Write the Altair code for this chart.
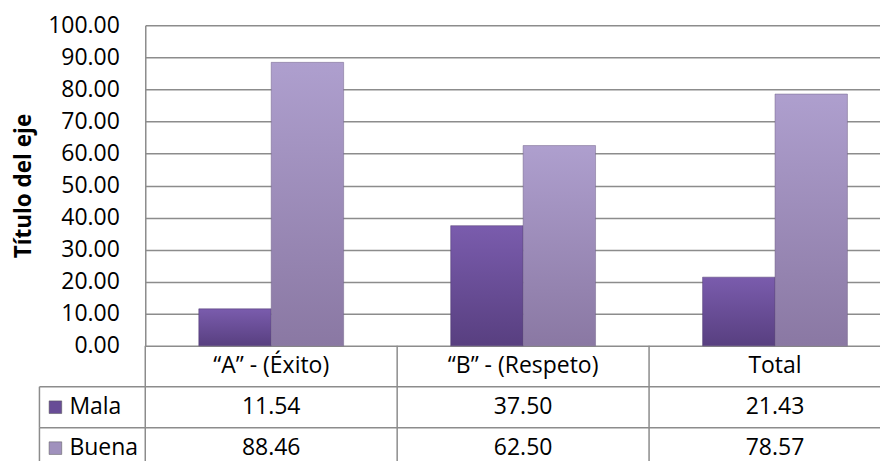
import altair as alt
import pandas as pd

categories = ["“A” - (Éxito)", "“B” - (Respeto)", "Total"]
series = ["Mala", "Buena"]
mala = [11.54, 37.50, 21.43]
buena = [88.46, 62.50, 78.57]
y_ticks = [0, 10, 20, 30, 40, 50, 60, 70, 80, 90, 100]
rows = ["cat", "Mala", "Buena"]

FONT = "Open Sans"
GRID = "#8c8c8c"

recs = []
for c, m, b in zip(categories, mala, buena):
    recs.append({"category": c, "serie": "Mala", "value": m})
    recs.append({"category": c, "serie": "Buena", "value": b})
df = pd.DataFrame(recs)

tab = []
for c in categories:
    tab.append({"category": c, "row": "cat", "label": c})
for r in recs:
    tab.append({"category": r["category"], "row": r["serie"], "label": f"{r['value']:.2f}"})
tdf = pd.DataFrame(tab)
hdr = pd.DataFrame({"row": series})
cdf = pd.DataFrame({"category": categories})

W = 757
ROWH = 41

def grad(top, bottom):
    return alt.Gradient(
        gradient="linear",
        stops=[alt.GradientStop(color=top, offset=0), alt.GradientStop(color=bottom, offset=1)],
        x1=0, x2=0, y1=0, y2=1,
    )

xs = alt.X("category:N", sort=categories, axis=None,
           scale=alt.Scale(paddingInner=0.425, paddingOuter=0.2125))
ys = alt.Y("value:Q", scale=alt.Scale(domain=[0, 100], nice=False),
           axis=alt.Axis(values=y_ticks, format=".2f", title="Título del eje",
                         titleFont=FONT, titleFontSize=22.5, titleFontWeight="bold",
                         titleColor="black", titlePadding=12,
                         labelFont=FONT, labelFontSize=23, labelColor="black",
                         labelPadding=26, ticks=False, grid=True, gridColor=GRID,
                         gridWidth=1.5, domain=True, domainColor=GRID, domainWidth=1.5))
xo = alt.XOffset("serie:N", sort=series, scale=alt.Scale(paddingInner=0, paddingOuter=0))

bars_m = alt.Chart(df).transform_filter(alt.datum.serie == "Mala").mark_bar(
    color=grad("#7a5cad", "#583f80"), stroke="#4a356c", strokeWidth=0.8, strokeOpacity=0.6
).encode(x=xs, y=ys, xOffset=xo)
bars_b = alt.Chart(df).transform_filter(alt.datum.serie == "Buena").mark_bar(
    color=grad("#ae9fce", "#8a78a3"), stroke="#6e5f85", strokeWidth=0.8, strokeOpacity=0.6
).encode(x=xs, y=ys, xOffset=xo)

top = alt.layer(bars_m, bars_b).properties(width=W, height=321)

tscale_x = alt.Scale(domain=categories, paddingInner=0, paddingOuter=0)
tscale_y = alt.Scale(domain=rows, paddingInner=0, paddingOuter=0)
tx = alt.X("category:N", sort=categories, scale=tscale_x, axis=None)
ty = alt.Y("row:N", sort=rows, scale=tscale_y, axis=None)

cells = alt.Chart(tdf).mark_text(font=FONT, fontSize=23, color="black").encode(
    x=tx, y=ty, text="label:N")

vlines = alt.Chart(cdf).mark_rule(color=GRID, strokeWidth=1.5).encode(
    x=alt.X("category:N", sort=categories, scale=tscale_x, axis=None, bandPosition=0))

hlines = alt.Chart(hdr).mark_rule(color=GRID, strokeWidth=1.5).encode(
    y=alt.Y("row:N", sort=rows, scale=tscale_y, axis=None, bandPosition=0),
    x=alt.value(-106), x2=alt.value(W))

border = alt.Chart(hdr).mark_rect(fill=None, stroke=GRID, strokeWidth=1.5).encode(
    x=alt.value(-106), x2=alt.value(-106), y=ty)

squares = alt.Chart(hdr).mark_point(shape="square", filled=True, size=160, opacity=1,
                                    stroke="#555555", strokeWidth=0.5).encode(
    x=alt.value(-90), y=ty,
    color=alt.Color("row:N", scale=alt.Scale(domain=series, range=["#684c96", "#a091bd"]),
                    legend=None))

names = alt.Chart(hdr).mark_text(font=FONT, fontSize=23, color="black", align="left").encode(
    x=alt.value(-76), y=ty, text="row:N")

table = alt.layer(vlines, hlines, border, cells, squares, names).properties(
    width=W, height=3 * ROWH)

chart = alt.vconcat(top, table, spacing=0, bounds="flush").configure_view(stroke=None).properties(
    padding={"left": 4.5, "top": 6, "right": -22, "bottom": 0})

chart.save("out.html", embed_options={"renderer": "svg", "actions": False})
